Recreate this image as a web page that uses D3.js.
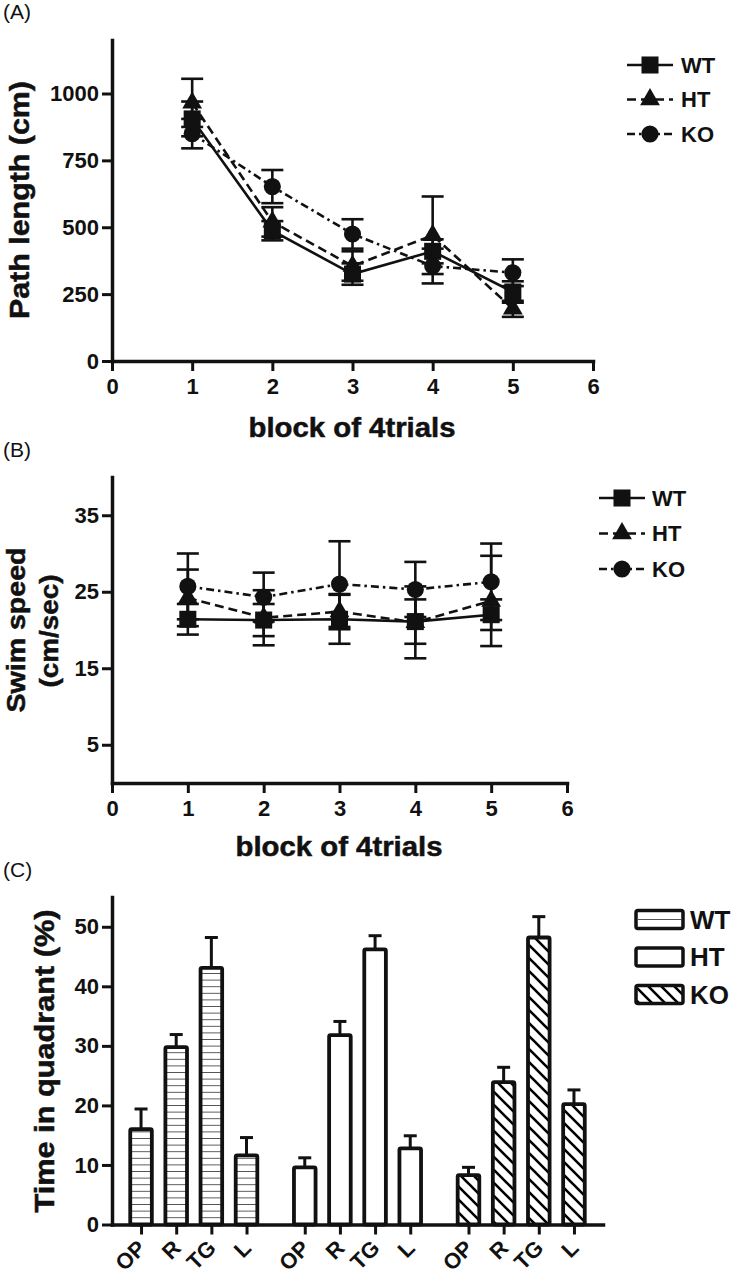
<!DOCTYPE html>
<html><head><meta charset="utf-8">
<script src="https://cdn.jsdelivr.net/npm/d3@7"></script>
<style>body{margin:0;background:#fff} svg{display:block} text{font-family:"Liberation Sans",Arial,Helvetica,sans-serif;}</style>
</head><body><svg id="c" width="734" height="1280"></svg>
<script>
// ---------- data ----------
const blocks = [1, 2, 3, 4, 5];
const xTicks = [0, 1, 2, 3, 4, 5, 6];
const seriesNames = ["WT", "HT", "KO"];

// (A) path length (cm)
const pathWT = [905, 487, 325, 410, 258];
const pathWTerr = [65, 36, 40, 45, 40];
const pathHT = [965, 520, 355, 470, 195];
const pathHTerr = [90, 55, 55, 145, 30];
const pathKO = [850, 652, 475, 355, 330];
const pathKOerr = [55, 62, 55, 65, 50];
const pathTicks = [0, 250, 500, 750, 1000];

// (B) swim speed (cm/sec)
const speedWT = [21.4, 21.3, 21.4, 21.1, 22.0];
const speedWTerr = [2.0, 2.1, 3.2, 2.9, 2.0];
const speedHT = [24.2, 21.6, 22.4, 21.0, 23.8];
const speedHTerr = [3.7, 3.6, 2.3, 4.7, 5.9];
const speedKO = [25.7, 24.3, 26.0, 25.3, 26.3];
const speedKOerr = [4.3, 3.2, 5.6, 3.6, 5.0];
const speedTicks = [5, 15, 25, 35];

// (C) time in quadrant (%)
const quadrants = ["OP", "R", "TG", "L"];
const quadWT = [16.0, 29.8, 43.1, 11.6];
const quadWTerr = [3.4, 2.1, 5.1, 3.0];
const quadHT = [9.6, 31.8, 46.2, 12.8];
const quadHTerr = [1.6, 2.3, 2.3, 2.1];
const quadKO = [8.3, 23.9, 48.2, 20.2];
const quadKOerr = [1.3, 2.5, 3.5, 2.4];
const quadTicks = [0, 10, 20, 30, 40, 50];

// ---------- drawing ----------
const svg = d3.select("#c");
const defs = svg.append("defs");
const hz = defs.append("pattern").attr("id", "hz").attr("patternUnits", "userSpaceOnUse")
  .attr("width", 10).attr("height", 6.6);
hz.append("rect").attr("width", 10).attr("height", 6.6).attr("fill", "#fff");
hz.append("line").attr("x1", 0).attr("x2", 10).attr("y1", 3.3).attr("y2", 3.3)
  .attr("stroke", "#555").attr("stroke-width", 1);
const dg = defs.append("pattern").attr("id", "dg").attr("patternUnits", "userSpaceOnUse")
  .attr("width", 13).attr("height", 13);
dg.append("rect").attr("width", 13).attr("height", 13).attr("fill", "#fff");
dg.append("path").attr("d", "M-3,-3 L16,16 M-3,10 L3,16 M10,-3 L16,3")
  .attr("stroke", "#000").attr("stroke-width", 2.6);

const FONT = '"Liberation Sans",Arial,sans-serif';

function styleAxis(g) {
  g.select(".domain").attr("stroke", "#111").attr("stroke-width", 3.5).attr("stroke-linecap", "square");
  g.selectAll(".tick line").attr("stroke", "#111").attr("stroke-width", 3);
  g.selectAll(".tick text").attr("font-size", 22).attr("font-weight", "bold").attr("fill", "#111")
    .attr("font-family", FONT);
}

function title(x, y, txt, rot, len, size) {
  const t = svg.append("text").attr("transform", `translate(${x},${y}) rotate(${rot})`)
    .attr("text-anchor", "middle").attr("font-size", size || 27).attr("font-weight", "bold")
    .attr("fill", "#111").attr("stroke", "#111").attr("stroke-width", 0.5).text(txt);
  if (len) t.attr("textLength", len).attr("lengthAdjust", "spacingAndGlyphs");
  return t;
}

function panelLabel(y, txt) {
  svg.append("text").attr("x", 3).attr("y", y).attr("font-size", 21).attr("fill", "#111").text(txt);
}

const dashes = { WT: null, HT: "9,5", KO: "8,4,2.5,4" };
const symbols = { WT: d3.symbolSquare, HT: d3.symbolTriangle, KO: d3.symbolCircle };
const symSize = { WT: 290, HT: 170, KO: 230 };

function linePanel(cfg) {
  const x = d3.scaleLinear().domain([0, 6]).range([112, cfg.xEnd]);
  const y = d3.scaleLinear().domain(cfg.yDomain).range([cfg.yBottom, cfg.yTop]);
  const ax = svg.append("g").attr("transform", `translate(0,${cfg.yBottom})`)
    .call(d3.axisBottom(x).tickValues(xTicks).tickSize(10).tickSizeOuter(0).tickPadding(7).tickFormat(d3.format("d")));
  styleAxis(ax);
  const ay = svg.append("g").attr("transform", `translate(112,0)`)
    .call(d3.axisLeft(y).tickValues(cfg.yTicks).tickSize(10).tickSizeOuter(0).tickPadding(3).tickFormat(d3.format("d")));
  styleAxis(ay);

  cfg.series.forEach(s => {
    const pts = blocks.map((b, i) => ({ b, v: s.vals[i], e: s.errs[i] }));
    const line = d3.line().x(d => x(d.b)).y(d => y(d.v));
    svg.append("path").datum(pts).attr("d", line).attr("fill", "none").attr("stroke", "#111")
      .attr("stroke-width", 2.6).attr("stroke-dasharray", dashes[s.name]);
    const eg = svg.append("g").attr("stroke", "#111").attr("stroke-width", 2.6);
    pts.forEach(d => {
      eg.append("line").attr("x1", x(d.b)).attr("x2", x(d.b)).attr("y1", y(d.v - d.e)).attr("y2", y(d.v + d.e));
      [d.v - d.e, d.v + d.e].forEach(v => eg.append("line").attr("x1", x(d.b) - 11).attr("x2", x(d.b) + 11)
        .attr("y1", y(v)).attr("y2", y(v)));
    });
    svg.append("g").selectAll("path").data(pts).join("path")
      .attr("transform", d => `translate(${x(d.b)},${y(d.v)})`)
      .attr("d", d3.symbol().type(symbols[s.name]).size(symSize[s.name])).attr("fill", "#111");
  });

  const L = cfg.legend;
  seriesNames.forEach((n, i) => {
    const yy = L.y0 + i * L.dy;
    svg.append("line").attr("x1", L.x0).attr("x2", L.x1).attr("y1", yy).attr("y2", yy)
      .attr("stroke", "#111").attr("stroke-width", 2.6).attr("stroke-dasharray", dashes[n]);
    svg.append("path").attr("transform", `translate(${(L.x0 + L.x1) / 2},${yy})`)
      .attr("d", d3.symbol().type(symbols[n]).size(symSize[n])).attr("fill", "#111");
    svg.append("text").attr("x", L.tx).attr("y", yy).attr("dy", "0.36em").attr("font-size", L.fs)
      .attr("font-weight", "bold").attr("fill", "#111").text(n);
  });
}

// Panel A
panelLabel(19, "(A)");
linePanel({
  xEnd: 593, yBottom: 361, yTop: 40, yDomain: [0, 1200], yTicks: pathTicks,
  series: [
    { name: "WT", vals: pathWT, errs: pathWTerr },
    { name: "HT", vals: pathHT, errs: pathHTerr },
    { name: "KO", vals: pathKO, errs: pathKOerr }],
  legend: { x0: 627, x1: 673, tx: 681, y0: 65, dy: 34.5, fs: 22 }
});
title(29, 200, "Path length (cm)", -90, 238);
title(352, 437, "block of 4trials", 0, 207);

// Panel B
panelLabel(457, "(B)");
linePanel({
  xEnd: 567, yBottom: 783, yTop: 477, yDomain: [0, 40], yTicks: speedTicks,
  series: [
    { name: "WT", vals: speedWT, errs: speedWTerr },
    { name: "HT", vals: speedHT, errs: speedHTerr },
    { name: "KO", vals: speedKO, errs: speedKOerr }],
  legend: { x0: 599, x1: 645, tx: 652, y0: 498, dy: 35.5, fs: 22 }
});
title(25, 630, "Swim speed", -90, 165, 25);
title(58, 631, "(cm/sec)", -90, 113, 25);
title(339, 856, "block of 4trials", 0, 207);

// Panel C
panelLabel(877, "(C)");
(function () {
  const yB = 1224.5, yT = 897;
  const x0 = d3.scaleBand().domain(seriesNames).range([112, 603]).paddingInner(0.141).paddingOuter(0.07);
  const x1 = d3.scaleBand().domain(quadrants).range([0, x0.bandwidth()]).paddingInner(0.286).paddingOuter(0.143);
  const y = d3.scaleLinear().domain([0, 55]).range([yB, yT]);
  const data = [
    { g: "WT", vals: quadWT, errs: quadWTerr, fill: "url(#hz)" },
    { g: "HT", vals: quadHT, errs: quadHTerr, fill: "#fff" },
    { g: "KO", vals: quadKO, errs: quadKOerr, fill: "url(#dg)" }];
  const tickPos = [];
  data.forEach(s => {
    quadrants.forEach((q, i) => {
      const bx = x0(s.g) + x1(q);
      const bw = x1.bandwidth();
      const cx = bx + bw / 2;
      tickPos.push({ x: cx, q });
      const top = y(s.vals[i]);
      svg.append("line").attr("x1", cx).attr("x2", cx).attr("y1", top).attr("y2", y(s.vals[i] + s.errs[i]))
        .attr("stroke", "#111").attr("stroke-width", 3);
      svg.append("line").attr("x1", cx - 6.5).attr("x2", cx + 6.5)
        .attr("y1", y(s.vals[i] + s.errs[i])).attr("y2", y(s.vals[i] + s.errs[i]))
        .attr("stroke", "#111").attr("stroke-width", 3);
      svg.append("rect").attr("x", bx + 1.75).attr("y", top).attr("width", bw - 3.5).attr("height", yB - top)
        .attr("fill", s.fill).attr("stroke", "#111").attr("stroke-width", 3.8).attr("rx", 1.5);
    });
  });
  const ay = svg.append("g").attr("transform", "translate(112,0)")
    .call(d3.axisLeft(y).tickValues(quadTicks).tickSize(10).tickSizeOuter(0).tickPadding(3));
  styleAxis(ay);
  const xs = d3.scaleLinear().domain([112, 603]).range([112, 603]);
  const ax = svg.append("g").attr("transform", `translate(0,${yB})`)
    .call(d3.axisBottom(xs).tickValues(tickPos.map(d => d.x)).tickSize(10).tickSizeOuter(0).tickFormat(""));
  styleAxis(ax);
  tickPos.forEach(d => {
    svg.append("text").attr("transform", `translate(${d.x + 6},${yB + 25}) rotate(-45)`)
      .attr("text-anchor", "end").attr("font-size", 22).attr("font-weight", "bold").attr("fill", "#111").text(d.q);
  });
  seriesNames.forEach((n, i) => {
    const yy = 919.5 + i * 37.5;
    const r = svg.append("rect").attr("x", 636).attr("y", yy - 9).attr("width", 47).attr("height", 18)
      .attr("fill", "#fff").attr("stroke", "#111").attr("stroke-width", 3.5).attr("rx", 2);
    if (i === 0) svg.append("line").attr("x1", 638).attr("x2", 681).attr("y1", yy).attr("y2", yy)
      .attr("stroke", "#555").attr("stroke-width", 1);
    if (i === 2) r.attr("fill", "url(#dg)");
    svg.append("text").attr("x", 690).attr("y", yy).attr("dy", "0.36em").attr("font-size", 26)
      .attr("font-weight", "bold").attr("fill", "#111").text(n);
  });
  title(54, 1061, "Time in quadrant (%)", -90, 303);
})();
</script></body></html>
